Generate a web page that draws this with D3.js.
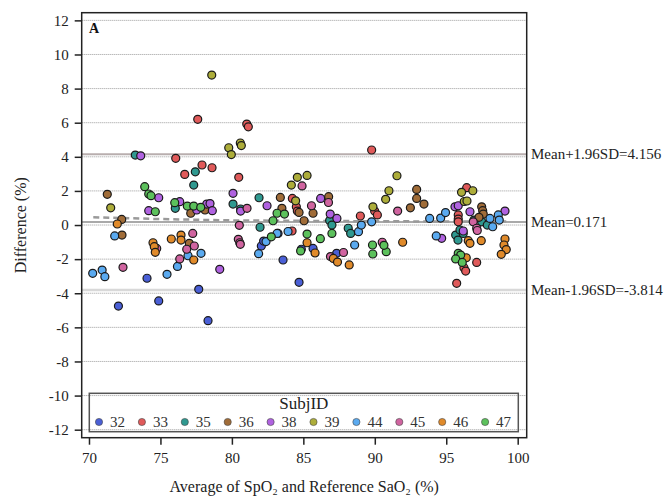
<!DOCTYPE html>
<html>
<head>
<meta charset="utf-8">
<script src="https://cdn.jsdelivr.net/npm/d3@7"></script>
<style>
  body { margin: 0; background: #fff; }
  text { font-family: "Liberation Serif", "Times New Roman", serif; }
</style>
</head>
<body>
<div id="chart"></div>
<script>
// subjects shown in the legend
var subjIds = ["32", "33", "35", "36", "38", "39", "44", "45", "46", "47"];
var palette = ["#4a5fd6", "#e05a5a", "#2f9990", "#a06c38", "#b062e0", "#adad3a", "#5aaaf0", "#d064a0", "#e08a2a", "#5cc15c"];

// [average, difference] per subject
var subj32 = [[72.06,-4.75],[74.06,-3.12],[74.88,-4.45],[77.68,-3.77],[78.33,-5.61],[82.06,-1.23],[82.22,-0.94],[83.23,-0.49],[83.58,-2.05],[84.70,-3.36],[84.86,-1.42],[85.68,-1.37],[87.33,-1.66]];
var subj33 = [[76.07,3.91],[76.70,2.97],[77.91,3.52],[78.61,3.36],[77.61,6.20],[81.04,5.92],[81.15,5.76],[80.48,2.80],[84.23,1.56],[84.51,1.07],[84.58,0.82],[84.21,-0.35],[88.99,0.53],[89.99,0.82],[90.18,0.59],[89.78,4.40],[96.43,2.19],[95.84,0.59],[95.84,0.35],[95.84,0.19],[96.24,-2.50],[96.36,-2.70],[97.13,-2.19],[95.73,-3.42]];
var subj35 = [[73.24,4.10],[76.04,0.98],[77.44,3.12],[77.33,2.34],[80.08,1.23],[80.61,0.94],[81.90,1.60],[81.97,-0.13],[86.84,0.26],[87.00,0.00],[88.14,-0.19],[88.31,-0.49],[95.66,-0.59],[95.82,-0.88],[95.96,-0.29],[96.19,-0.49],[97.48,0.19],[96.94,0.29],[97.87,0.00]];
var subj36 = [[71.28,1.80],[72.29,0.33],[72.31,-0.59],[78.12,0.88],[77.12,0.69],[77.02,-1.07],[83.39,1.62],[83.50,0.98],[84.70,0.74],[85.05,0.25],[85.68,0.69],[86.77,1.66],[92.93,2.09],[92.93,1.56],[93.44,1.23],[92.49,1.01],[97.48,1.07],[97.55,0.84],[97.59,0.64],[97.29,0.45]];
var subj38 = [[73.62,4.06],[74.88,1.60],[74.18,0.84],[76.35,1.37],[77.54,0.88],[78.24,1.23],[78.47,1.26],[78.63,0.84],[79.15,-2.60],[80.08,1.86],[80.61,0.82],[82.46,1.13],[86.21,1.56],[86.88,0.64],[87.35,0.39],[94.68,-0.78],[95.61,1.07],[95.84,1.13],[96.66,0.78],[96.19,-0.35],[99.11,0.82]];
var subj39 = [[71.52,1.01],[78.59,8.79],[79.78,4.53],[79.96,4.13],[80.59,4.81],[80.66,4.66],[84.16,2.34],[84.58,2.80],[85.26,2.91],[84.46,1.42],[89.87,1.07],[90.76,1.51],[90.99,2.01],[91.55,2.89],[96.07,1.92],[96.86,2.01],[96.26,1.38],[96.45,1.41]];
var subj44 = [[70.26,-2.83],[70.92,-2.64],[71.11,-3.03],[71.80,-0.64],[75.46,-2.89],[76.19,-2.43],[76.93,-1.80],[77.84,-1.66],[81.87,-1.68],[82.39,-0.97],[83.16,-0.49],[83.93,-0.38],[88.59,-1.17],[88.86,-0.39],[89.06,0.00],[89.78,0.19],[93.84,0.39],[94.61,0.41],[94.95,0.73],[94.30,-0.64],[98.06,0.39],[98.25,-0.10],[98.64,0.59],[98.71,0.29]];
var subj45 = [[72.38,-2.48],[74.74,-1.37],[76.35,-1.99],[76.84,-1.42],[77.26,-0.49],[77.37,-1.23],[81.06,0.98],[80.52,-0.02],[80.45,-0.84],[80.55,-1.04],[80.59,-1.13],[84.91,2.29],[85.57,1.13],[86.76,1.32],[86.90,-1.85],[87.81,-1.61],[91.60,0.82],[90.52,-1.01],[96.89,0.19],[97.13,-0.19],[97.17,-0.32]];
var subj46 = [[71.98,0.06],[74.48,-1.04],[74.57,-1.27],[74.64,-1.60],[75.76,-0.82],[76.44,-0.59],[76.44,-0.88],[77.33,-2.05],[85.26,-1.04],[85.82,-1.64],[87.10,-1.96],[87.39,-2.17],[88.21,-2.34],[91.95,-1.01],[96.54,-0.92],[96.66,-1.07],[96.40,-1.92],[97.45,-0.92],[99.11,-0.82],[99.04,-1.17],[99.20,-1.44],[98.85,-1.72]];
var subj47 = [[73.90,2.25],[74.18,1.82],[74.34,1.72],[74.64,0.78],[76.00,1.31],[76.88,1.11],[77.33,1.11],[77.82,1.04],[83.16,0.69],[83.68,0.64],[82.88,0.25],[82.76,-0.69],[85.26,-0.53],[84.81,-1.52],[86.19,-0.80],[87.00,-0.49],[89.84,-1.17],[89.86,-1.70],[90.80,-1.56],[90.64,-1.19],[95.84,-1.66],[96.01,-1.76],[95.66,-1.99],[96.12,-2.19]];

var subjData = [subj32, subj33, subj35, subj36, subj38, subj39, subj44, subj45, subj46, subj47];

// agreement statistics
var meanDiff = 0.171, upperLoA = 4.156, lowerLoA = -3.814;
// dashed trend line
var trendX = [70.3, 75, 80, 90, 99.2];
var trendY = [0.45, 0.35, 0.27, 0.22, 0.2];

var xTicks = [70, 75, 80, 85, 90, 95, 100];
var yTicks = [-12, -10, -8, -6, -4, -2, 0, 2, 4, 6, 8, 10, 12];

(function() {
  var W = 672, H = 498;
  var pL = 81.7, pR = 526.7, pT = 12.7, pB = 437.7;

  var svg = d3.select("#chart").append("svg")
      .attr("width", W)
      .attr("height", H);

  var x = d3.scaleLinear().domain([69.49, 100.63]).range([pL, pR]);
  var y = d3.scaleLinear().domain([-12.47, 12.45]).range([pB, pT]);

  // dotted grid
  svg.append("g")
      .selectAll("line")
      .data(yTicks)
      .enter()
      .append("line")
      .attr("x1", pL).attr("x2", pR)
      .attr("y1", function(d) { return y(d); })
      .attr("y2", function(d) { return y(d); })
      .style("stroke", "#9a9a9a")
      .style("stroke-width", 1)
      .style("stroke-dasharray", "1,1");

  // limits of agreement
  var refLines = [
    {v: upperLoA, c: "#b8aeae", w: 2, label: "Mean+1.96SD=" + upperLoA},
    {v: meanDiff, c: "#a9a9a9", w: 2, label: "Mean=" + meanDiff},
    {v: lowerLoA, c: "#d8d8d8", w: 2.5, label: "Mean-1.96SD=" + lowerLoA}
  ];
  svg.append("g")
      .selectAll("line")
      .data(refLines)
      .enter()
      .append("line")
      .attr("x1", pL).attr("x2", pR)
      .attr("y1", function(d) { return y(d.v); })
      .attr("y2", function(d) { return y(d.v); })
      .style("stroke", function(d) { return d.c; })
      .style("stroke-width", function(d) { return d.w; });

  svg.append("g")
      .selectAll("text")
      .data(refLines)
      .enter()
      .append("text")
      .attr("x", 531)
      .attr("y", function(d) { return y(d.v); })
      .attr("dy", "0.35em")
      .style("font-size", "15px")
      .style("fill", "#222")
      .text(function(d) { return d.label; });

  // dashed trend
  svg.append("path")
      .datum(d3.zip(trendX, trendY))
      .attr("d", d3.line()
          .x(function(d) { return x(d[0]); })
          .y(function(d) { return y(d[1]); }))
      .style("fill", "none")
      .style("stroke", "#9a9a9a")
      .style("stroke-width", 2.5)
      .style("stroke-dasharray", "6,4");

  // points
  subjData.forEach(function(pts, i) {
    svg.append("g")
        .attr("class", "subj" + subjIds[i])
        .selectAll("circle")
        .data(pts)
        .enter()
        .append("circle")
        .attr("cx", function(d) { return x(d[0]); })
        .attr("cy", function(d) { return y(d[1]); })
        .attr("r", 4)
        .style("fill", palette[i])
        .style("stroke", "#1a1a1a")
        .style("stroke-width", 1.2);
  });

  // frame
  svg.append("rect")
      .attr("x", pL).attr("y", pT)
      .attr("width", pR - pL).attr("height", pB - pT)
      .style("fill", "none")
      .style("stroke", "#222")
      .style("stroke-width", 1.5);

  // axes (plain hyphen for negatives, as in the source)
  var fmt = function(d) { return String(d); };
  var xAxis = svg.append("g")
      .attr("transform", "translate(0," + pB + ")")
      .call(d3.axisBottom(x).tickValues(xTicks).tickFormat(fmt).tickSize(7).tickPadding(8));
  var yAxis = svg.append("g")
      .attr("transform", "translate(" + pL + ",0)")
      .call(d3.axisLeft(y).tickValues(yTicks).tickFormat(fmt).tickSize(7).tickPadding(6));
  [xAxis, yAxis].forEach(function(a) {
    a.select(".domain").remove();
    a.selectAll(".tick line").style("stroke", "#222").style("stroke-width", 1.5);
    a.selectAll(".tick text")
        .style("font-family", "'Liberation Serif', serif")
        .style("font-size", "15px")
        .style("fill", "#222");
  });

  // titles
  svg.append("text")
      .attr("transform", "translate(26," + ((pT + pB) / 2) + ") rotate(-90)")
      .attr("text-anchor", "middle")
      .style("font-size", "16px")
      .style("fill", "#222")
      .text("Difference (%)");

  svg.append("text")
      .attr("x", (pL + pR) / 2)
      .attr("y", 492)
      .attr("text-anchor", "middle")
      .style("font-size", "16px")
      .style("fill", "#222")
      .text("Average of SpO\u2082 and Reference SaO\u2082 (%)");

  svg.append("text")
      .attr("x", 89)
      .attr("y", 33)
      .style("font-size", "14px")
      .style("font-weight", "bold")
      .style("fill", "#111")
      .text("A");

  // legend
  var legend = svg.append("g");
  legend.append("rect")
      .attr("x", 89.3).attr("y", 393.3)
      .attr("width", 429).attr("height", 38.4)
      .style("fill", "none")
      .style("stroke", "#555")
      .style("stroke-width", 1.5);
  legend.append("text")
      .attr("x", 303.8)
      .attr("y", 409)
      .attr("text-anchor", "middle")
      .style("font-size", "17px")
      .style("fill", "#222")
      .text("SubjID");
  var item = legend.selectAll("g.item")
      .data(subjIds)
      .enter()
      .append("g")
      .attr("class", "item")
      .attr("transform", function(d, i) { return "translate(" + (99 + i * 42.9) + ",422)"; });
  item.append("circle")
      .attr("r", 3.6)
      .style("fill", function(d, i) { return palette[i]; })
      .style("stroke", "#444")
      .style("stroke-width", 0.6);
  item.append("text")
      .attr("x", 11)
      .attr("dy", "0.35em")
      .style("font-size", "15px")
      .style("fill", "#333")
      .text(function(d) { return d; });
})();
</script>
</body>
</html>
